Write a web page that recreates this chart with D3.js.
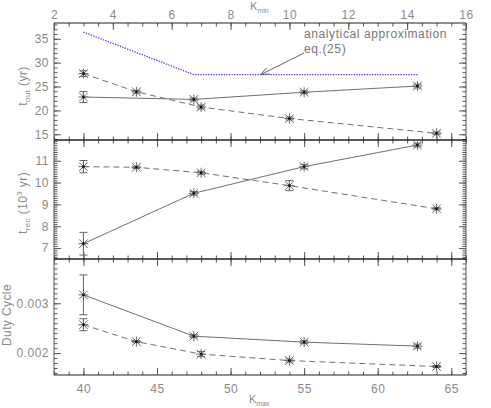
<!DOCTYPE html>
<html>
<head>
<meta charset="utf-8">
<script src="https://cdn.jsdelivr.net/npm/d3@7"></script>
<style>
  html, body { margin: 0; padding: 0; background: #fff; }
  svg { display: block; font-family: "Liberation Sans", Arial, sans-serif; }
</style>
</head>
<body>
<svg id="chart" width="491" height="408"></svg>
<script>
// ---------------- data ----------------
const kmaxSolid = [40, 47.5, 55, 62.7];          // solid series, plotted on K_max (bottom) axis
const kminDashed = [3, 4.8, 7, 10, 15];          // dashed series, plotted on K_min (top) axis

const toutSolid = [22.8, 22.3, 23.8, 25.1];
const toutSolidErr = [1.15, 0.3, 0.3, 0.4];
const toutDashed = [27.7, 23.9, 20.7, 18.3, 15.2];
const toutDashedErr = [0.6, 0.3, 0.4, 0.3, 0.3];

const trecSolid = [7.2, 9.51, 10.73, 11.72];
const trecSolidErr = [0.52, 0.08, 0.1, 0.08];
const trecDashed = [10.73, 10.70, 10.45, 9.86, 8.80];
const trecDashedErr = [0.28, 0.05, 0.07, 0.23, 0.05];

const dutySolid = [0.00317, 0.00234, 0.00222, 0.00214];
const dutySolidErr = [0.0004, 0.00003, 0.00003, 0.00004];
const dutyDashed = [0.00257, 0.00223, 0.00198, 0.00185, 0.00173];
const dutyDashedErr = [0.00012, 0.00002, 0.00005, 0.00003, 0.00002];

const approxK = [40, 47.5, 62.7];
const approxT = [36.4, 27.5, 27.5];

// tick labels
const kmaxTicks = [40, 45, 50, 55, 60, 65];
const kminTicks = [2, 4, 6, 8, 10, 12, 14, 16];
const toutTicks = [15, 20, 25, 30, 35];
const trecTicks = [7, 8, 9, 10, 11];
const dutyTicks = [0.002, 0.003];

// ---------------- layout ----------------
const svg = d3.select("#chart");
const L = 54, R = 466;
const panels = [
  {top: 23, bot: 140, domain: [13.8, 38.3], ticks: toutTicks, minorStep: 1, fmt: d3.format("d")},
  {top: 140, bot: 259, domain: [6.5, 11.95], ticks: trecTicks, minorStep: 0.1, fmt: d3.format("d")},
  {top: 259, bot: 375, domain: [0.00156, 0.00389], ticks: dutyTicks, minorStep: 0.0001, fmt: d3.format(".3f")}
];

const xMax = d3.scaleLinear().domain([38, 66]).range([L, R]);
const xMin = d3.scaleLinear().domain([2, 16]).range([L, R]);

panels.forEach(p => { p.y = d3.scaleLinear().domain(p.domain).range([p.bot, p.top]); });

const tickColor = "#555";
const labelColor = "#8a8a8a";
const MAJ = 7, MIN = 3.5;

function minorValues(domain, step) {
  const out = [];
  const start = Math.ceil(domain[0] / step - 1e-9);
  const end = Math.floor(domain[1] / step + 1e-9);
  for (let i = start; i <= end; i++) out.push(+(i * step).toFixed(8));
  return out;
}

function styleAxis(g) {
  g.select(".domain").remove();
  g.selectAll(".tick line").attr("stroke", tickColor).attr("stroke-width", 1);
  g.selectAll(".tick text").attr("fill", labelColor).attr("font-size", 12).attr("letter-spacing", 0.5);
}

panels.forEach((p, i) => {
  const y = p.y;
  const minors = minorValues(p.domain, p.minorStep);
  // left
  svg.append("g").attr("transform", `translate(${L},0)`)
    .call(d3.axisLeft(y).tickValues(minors).tickSizeInner(-MIN).tickSizeOuter(0).tickFormat(""))
    .call(styleAxis);
  svg.append("g").attr("transform", `translate(${L},0)`)
    .call(d3.axisLeft(y).tickValues(p.ticks).tickSizeInner(-MAJ).tickSizeOuter(0).tickPadding(5).tickFormat(p.fmt))
    .call(styleAxis);
  // right
  svg.append("g").attr("transform", `translate(${R},0)`)
    .call(d3.axisRight(y).tickValues(minors).tickSizeInner(-MIN).tickSizeOuter(0).tickFormat(""))
    .call(styleAxis);
  svg.append("g").attr("transform", `translate(${R},0)`)
    .call(d3.axisRight(y).tickValues(p.ticks).tickSizeInner(-MAJ).tickSizeOuter(0).tickFormat(""))
    .call(styleAxis);

  const kmaxMinor = minorValues([38, 66], 1);
  // bottom edge of each panel: K_max ticks
  svg.append("g").attr("transform", `translate(0,${p.bot})`)
    .call(d3.axisBottom(xMax).tickValues(kmaxMinor).tickSizeInner(-MIN).tickSizeOuter(0).tickFormat(""))
    .call(styleAxis);
  svg.append("g").attr("transform", `translate(0,${p.bot})`)
    .call(d3.axisBottom(xMax).tickValues(kmaxTicks).tickSizeInner(-MAJ).tickSizeOuter(0).tickPadding(9)
      .tickFormat(i === 2 ? d3.format("d") : ""))
    .call(styleAxis);

  // top edge
  if (i === 0) {
    const kminMinor = minorValues([2, 16], 0.5);
    svg.append("g").attr("transform", `translate(0,${p.top})`)
      .call(d3.axisTop(xMin).tickValues(kminMinor).tickSizeInner(-MIN).tickSizeOuter(0).tickFormat(""))
      .call(styleAxis);
    svg.append("g").attr("transform", `translate(0,${p.top})`)
      .call(d3.axisTop(xMin).tickValues(kminTicks).tickSizeInner(-MAJ).tickSizeOuter(0).tickPadding(4).tickFormat(d3.format("d")))
      .call(styleAxis);
  } else {
    svg.append("g").attr("transform", `translate(0,${p.top})`)
      .call(d3.axisTop(xMax).tickValues(kmaxMinor).tickSizeInner(-MIN).tickSizeOuter(0).tickFormat(""))
      .call(styleAxis);
    svg.append("g").attr("transform", `translate(0,${p.top})`)
      .call(d3.axisTop(xMax).tickValues(kmaxTicks).tickSizeInner(-MAJ).tickSizeOuter(0).tickFormat(""))
      .call(styleAxis);
  }
});

// frames
panels.forEach(p => {
  svg.append("line").attr("x1", L).attr("x2", L).attr("y1", p.top).attr("y2", p.bot).attr("stroke", "#555").attr("stroke-width", 1);
  svg.append("line").attr("x1", R).attr("x2", R).attr("y1", p.top).attr("y2", p.bot).attr("stroke", "#555").attr("stroke-width", 1);
});
[23, 140, 259, 375].forEach((yy, i) => {
  svg.append("line").attr("x1", L).attr("x2", R).attr("y1", yy).attr("y2", yy)
    .attr("stroke", "#222").attr("stroke-width", (i === 1 || i === 2) ? 1.6 : 1.2);
});

// ---------------- series ----------------
function drawSeries(p, xs, xScale, vals, errs, dashed) {
  const y = p.y;
  const pts = xs.map((x, i) => [xScale(x), y(vals[i])]);
  svg.append("path").attr("d", d3.line()(pts))
    .attr("fill", "none").attr("stroke", "#707070").attr("stroke-width", 1)
    .attr("stroke-dasharray", dashed ? "6,4" : null);
  xs.forEach((x, i) => {
    const cx = xScale(x);
    const y1 = y(vals[i] - errs[i]), y2 = y(vals[i] + errs[i]);
    const g = svg.append("g").attr("stroke", "#666").attr("stroke-width", 1);
    g.append("line").attr("x1", cx).attr("x2", cx).attr("y1", y1).attr("y2", y2);
    g.append("line").attr("x1", cx - 4).attr("x2", cx + 4).attr("y1", y1).attr("y2", y1);
    g.append("line").attr("x1", cx - 4).attr("x2", cx + 4).attr("y1", y2).attr("y2", y2);
    // asterisk marker
    const cy = y(vals[i]);
    const r = 5, d = 4.3;
    const m = svg.append("g").attr("stroke", "#666").attr("stroke-width", 1);
    m.append("line").attr("x1", cx - r).attr("x2", cx + r).attr("y1", cy).attr("y2", cy);
    m.append("line").attr("x1", cx).attr("x2", cx).attr("y1", cy - r).attr("y2", cy + r);
    m.append("line").attr("x1", cx - d).attr("x2", cx + d).attr("y1", cy - d).attr("y2", cy + d);
    m.append("line").attr("x1", cx - d).attr("x2", cx + d).attr("y1", cy + d).attr("y2", cy - d);
    svg.append("rect").attr("x", cx - 1.2).attr("y", cy - 1.2).attr("width", 2.4).attr("height", 2.4).attr("fill", "#111");
  });
}

drawSeries(panels[0], kmaxSolid, xMax, toutSolid, toutSolidErr, false);
drawSeries(panels[0], kminDashed, xMin, toutDashed, toutDashedErr, true);
drawSeries(panels[1], kmaxSolid, xMax, trecSolid, trecSolidErr, false);
drawSeries(panels[1], kminDashed, xMin, trecDashed, trecDashedErr, true);
drawSeries(panels[2], kmaxSolid, xMax, dutySolid, dutySolidErr, false);
drawSeries(panels[2], kminDashed, xMin, dutyDashed, dutyDashedErr, true);

// analytical approximation (blue dotted)
svg.append("path")
  .attr("d", d3.line()(approxK.map((k, i) => [xMax(k), panels[0].y(approxT[i])])))
  .attr("fill", "none").attr("stroke", "#3a3aff").attr("stroke-width", 1.3)
  .attr("stroke-dasharray", "1.3,1.3");

// annotation
svg.append("text").attr("x", 304).attr("y", 37.5).attr("font-size", 12).attr("letter-spacing", 0.6).attr("fill", "#777")
  .text("analytical approximation");
svg.append("text").attr("x", 304).attr("y", 53).attr("font-size", 12).attr("letter-spacing", 0.6).attr("fill", "#777")
  .text("eq.(25)");
{
  const ax = xMax(approxK[1]) + 67, ay = panels[0].y(approxT[1]);
  const sx = 304, sy = 53;
  svg.append("line").attr("x1", sx).attr("y1", sy).attr("x2", ax).attr("y2", ay)
    .attr("stroke", "#666").attr("stroke-width", 1);
  const ang = Math.atan2(sy - ay, sx - ax);
  const hl = 9, ha = 0.4;
  svg.append("path")
    .attr("d", `M${ax + hl * Math.cos(ang - ha)},${ay + hl * Math.sin(ang - ha)} L${ax},${ay} L${ax + hl * Math.cos(ang + ha)},${ay + hl * Math.sin(ang + ha)}`)
    .attr("fill", "none").attr("stroke", "#666").attr("stroke-width", 1);
}

// axis titles
const kminT = svg.append("text").attr("x", 250).attr("y", 10).attr("font-size", 11).attr("fill", labelColor);
kminT.append("tspan").text("K");
kminT.append("tspan").attr("font-size", 7).attr("dy", 2.5).text("min");

const kmaxT = svg.append("text").attr("x", 249).attr("y", 403).attr("font-size", 11).attr("fill", labelColor);
kmaxT.append("tspan").text("K");
kmaxT.append("tspan").attr("font-size", 7).attr("dy", 2.5).text("max");

const t1 = svg.append("text").attr("transform", "translate(27,86) rotate(-90)")
  .attr("text-anchor", "middle").attr("font-size", 12).attr("letter-spacing", 0.4).attr("fill", labelColor);
t1.append("tspan").text("t");
t1.append("tspan").attr("font-size", 8).attr("dy", 3).text("out");
t1.append("tspan").attr("dy", -3).text("  (yr)");

const t2 = svg.append("text").attr("transform", "translate(27,203) rotate(-90)")
  .attr("text-anchor", "middle").attr("font-size", 12).attr("letter-spacing", 0.4).attr("fill", labelColor);
t2.append("tspan").text("t");
t2.append("tspan").attr("font-size", 8).attr("dy", 3).text("rec");
t2.append("tspan").attr("dy", -3).text("  (10");
t2.append("tspan").attr("font-size", 8).attr("dy", -5).text("3");
t2.append("tspan").attr("dy", 5).text(" yr)");

svg.append("text").attr("transform", "translate(11,315) rotate(-90)")
  .attr("text-anchor", "middle").attr("font-size", 12).attr("letter-spacing", 0.4).attr("fill", labelColor)
  .text("Duty Cycle");
</script>
</body>
</html>
